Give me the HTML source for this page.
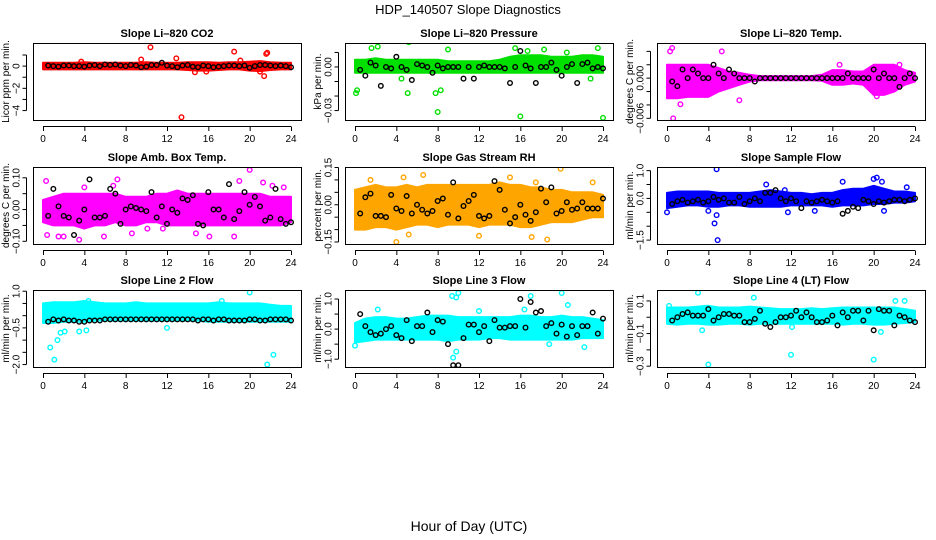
<!DOCTYPE html>
<html><head><meta charset="utf-8">
<style>
html,body{margin:0;padding:0;background:#fff;}
svg{display:block;font-family:"Liberation Sans",sans-serif;}
</style></head>
<body>
<svg id="chart" width="936" height="540" viewBox="0 0 936 540" xmlns="http://www.w3.org/2000/svg">
<text x="468" y="14" text-anchor="middle" font-size="13">HDP_140507  Slope Diagnostics</text>
<text x="469" y="531" text-anchor="middle" font-size="14">Hour of Day (UTC)</text>
</svg>
<script>
// shared x ticks
const xTicks = [0,4,8,12,16,20,24];
// band hours (hourly)
const bandHours = [0,1,2,3,4,5,6,7,8,9,10,11,12,13,14,15,16,17,18,19,20,21,22,23,24];
// black sample hours (half-hourly)
const blackHours = [0.5,1,1.5,2,2.5,3,3.5,4,4.5,5,5.5,6,6.5,7,7.5,8,8.5,9,9.5,10,10.5,11,11.5,12,12.5,13,13.5,14,14.5,15,15.5,16,16.5,17,17.5,18,18.5,19,19.5,20,20.5,21,21.5,22,22.5,23,23.5,24];

// Panel 1: CO2
const p1Lo = [-0.3,-0.3,-0.3,-0.3,-0.3,-0.3,-0.3,-0.3,-0.3,-0.3,-0.3,-0.3,-0.3,-0.3,-0.35,-0.4,-0.4,-0.35,-0.3,-0.3,-0.4,-0.45,-0.35,-0.3,-0.3];
const p1Hi = [0.3,0.3,0.3,0.3,0.35,0.3,0.3,0.3,0.3,0.3,0.35,0.3,0.3,0.3,0.35,0.35,0.35,0.3,0.35,0.35,0.4,0.45,0.35,0.3,0.3];
const p1Out = [[10.4,1.7],[13.4,-4.6],[18.5,1.3],[21.7,1.2],[21.6,1.1],[21.4,-0.9],[9.5,0.6],[12.9,0.7],[21,-0.5],[15.8,-0.5],[14.7,-0.55],[3.7,0.4],[19.1,0.5]];
const p1Black = [0.05,0.0,-0.05,0.05,0.05,0.0,0.0,-0.05,0.05,0.1,0.0,0.15,0.1,0.15,0.05,0.0,0.1,0.05,-0.1,-0.05,0.1,0.1,0.3,0.05,0.0,-0.1,0.05,0.1,-0.05,-0.1,0.05,0.0,-0.1,-0.05,0.0,0.05,0.05,0.0,0.05,-0.15,0.0,0.1,0.1,0.05,0.0,0.05,0.0,-0.1];

// Panel 2: Pressure
const p2Lo = [-0.004,-0.004,-0.004,-0.004,-0.004,-0.004,-0.004,-0.004,-0.004,-0.004,-0.004,-0.004,-0.004,-0.004,-0.004,-0.004,-0.004,-0.004,-0.004,-0.004,-0.004,-0.004,-0.004,-0.004,-0.004];
const p2Hi = [0.005,0.005,0.006,0.005,0.005,0.005,0.005,0.005,0.005,0.004,0.004,0.004,0.004,0.004,0.005,0.007,0.008,0.008,0.008,0.007,0.007,0.007,0.008,0.008,0.007];
const p2Out = [[0.1,-0.018],[0.2,-0.016],[2.4,0.019],[2.2,0.014],[5.2,0.017],[5.1,-0.018],[8,-0.031],[7.8,-0.018],[8.3,-0.016],[16,-0.034],[24,-0.035],[15.5,0.013],[16.7,0.011],[23.5,0.013],[1.6,0.013],[9,0.012],[4.5,-0.008],[18.3,0.012],[22.8,-0.008],[20.5,0.01]];
const p2Black = [-0.002,-0.006,0.003,0.001,-0.013,0.0,-0.001,0.007,0.0,-0.002,-0.009,0.002,0.001,0.0,-0.004,0.001,-0.001,0.0,0.0,0.0,-0.008,0.0,-0.008,0.0,0.001,0.0,0.0,0.0,-0.001,-0.011,0.0,0.011,0.001,-0.001,-0.011,0.0,0.0,0.003,-0.002,-0.006,0.0,0.002,-0.011,0.002,0.003,-0.001,0.0,-0.001];

// Panel 3: Li-820 Temp
const p3Lo = [-0.003,-0.003,-0.0028,-0.0028,-0.0028,-0.002,-0.0015,-0.001,-0.0005,-0.0003,-0.0003,-0.0003,-0.0003,-0.0003,-0.0003,-0.0004,-0.001,-0.001,-0.0008,-0.001,-0.0025,-0.0025,-0.002,-0.001,-0.0005];
const p3Hi = [0.002,0.002,0.002,0.002,0.002,0.0015,0.001,0.0008,0.0005,0.0003,0.0003,0.0003,0.0003,0.0003,0.0003,0.0005,0.0012,0.0012,0.001,0.001,0.002,0.002,0.002,0.0012,0.0008];
const p3Out = [[0.3,0.004],[0.5,0.0045],[0.6,-0.006],[1.3,-0.0039],[5.3,0.004],[7,-0.0033],[22.5,0.002],[16.7,0.002],[20.3,-0.0027]];
const p3Black = [-0.0005,-0.0012,0.0013,0.0,0.0013,0.0007,0.0,0.0,0.002,0.0007,0.0,0.0013,0.0007,0.0,0.0,0.0,-0.0005,0.0,0.0,0.0,0.0,0.0,0.0,0.0,0.0,0.0,0.0,0.0,0.0,0.0,0.0,0.0,0.0,0.0,0.0007,0.0,0.0,0.0,0.0,0.0013,0.0,0.0007,0.0,0.0,-0.0013,0.0,0.0007,0.0];

// Panel 4: Amb. Box Temp
const p4Lo = [-0.04,-0.05,-0.05,-0.05,-0.06,-0.05,-0.05,-0.04,-0.05,-0.05,-0.04,-0.04,-0.05,-0.05,-0.05,-0.05,-0.05,-0.05,-0.05,-0.05,-0.05,-0.05,-0.05,-0.05,-0.04];
const p4Hi = [0.03,0.04,0.05,0.05,0.05,0.05,0.05,0.05,0.04,0.04,0.04,0.05,0.05,0.06,0.05,0.05,0.05,0.05,0.05,0.05,0.05,0.05,0.04,0.04,0.04];
const p4Out = [[0.3,0.09],[0.4,-0.08],[1.5,-0.085],[2,-0.085],[3.5,-0.095],[4,0.07],[5.9,-0.085],[7.2,0.095],[8.6,-0.075],[11.6,-0.06],[14.8,-0.075],[16.1,-0.085],[18.5,-0.085],[19,0.09],[20,0.125],[21.3,0.085],[22.2,0.075],[23.3,0.07],[6.8,0.075],[10.1,-0.06]];
const p4Black = [-0.02,0.065,0.01,-0.02,-0.025,-0.08,-0.035,0.0,0.095,-0.025,-0.025,-0.02,0.065,0.05,-0.045,0.0,0.01,0.005,0.0,-0.005,0.055,-0.025,0.01,-0.045,0.0,-0.01,0.035,0.03,0.045,-0.045,-0.05,0.055,0.0,0.0,-0.025,0.08,-0.03,-0.005,0.055,0.015,0.04,0.01,-0.035,-0.025,0.065,-0.03,-0.045,-0.04];

// Panel 5: Gas Stream RH
const p5Lo = [-0.1,-0.1,-0.09,-0.09,-0.1,-0.09,-0.08,-0.08,-0.09,-0.08,-0.08,-0.08,-0.09,-0.08,-0.08,-0.08,-0.09,-0.09,-0.08,-0.07,-0.07,-0.07,-0.06,-0.05,-0.05];
const p5Hi = [0.06,0.07,0.08,0.07,0.07,0.08,0.07,0.08,0.08,0.08,0.08,0.08,0.08,0.08,0.09,0.08,0.08,0.07,0.07,0.06,0.06,0.05,0.05,0.05,0.04];
const p5Out = [[4,-0.15],[5.2,-0.12],[6.6,0.12],[4.7,0.11],[15,0.11],[17.5,0.09],[19.9,0.145],[18.6,-0.14],[12,-0.125],[17.1,-0.13],[1.5,0.1],[23,0.09]];
const p5Black = [-0.035,0.03,0.045,-0.045,-0.045,-0.05,0.04,-0.015,-0.025,0.035,-0.035,0.0,-0.02,-0.035,-0.025,0.015,0.025,-0.04,0.09,-0.055,-0.005,0.015,0.04,-0.045,-0.055,-0.045,0.095,0.06,-0.02,-0.075,-0.05,0.0,-0.04,-0.065,-0.03,0.065,0.01,0.07,-0.035,-0.025,0.01,-0.02,-0.015,0.01,-0.015,-0.015,-0.015,0.025];

// Panel 6: Sample Flow
const p6Lo = [-0.35,-0.3,-0.25,-0.25,-0.3,-0.3,-0.25,-0.25,-0.3,-0.3,-0.3,-0.3,-0.25,-0.25,-0.25,-0.25,-0.3,-0.25,-0.25,-0.25,-0.2,-0.2,-0.15,-0.15,-0.1];
const p6Hi = [0.2,0.25,0.25,0.25,0.25,0.2,0.2,0.2,0.2,0.25,0.3,0.25,0.2,0.2,0.15,0.2,0.2,0.3,0.35,0.35,0.45,0.35,0.25,0.25,0.2];
const p6Out = [[4.8,1.05],[4.9,-1.5],[4.6,-0.9],[4.8,-0.6],[0,-0.5],[4,-0.45],[9.6,0.5],[11.4,0.3],[17,0.6],[20,0.7],[20.3,0.75],[20.8,0.6],[21,-0.45],[23.2,0.4],[11.7,-0.5],[14.3,-0.45]];
const p6Black = [-0.2,-0.1,-0.05,-0.15,-0.1,-0.05,-0.15,-0.1,0.05,-0.05,0.0,-0.15,-0.15,0.05,-0.2,-0.1,0.0,-0.1,0.2,0.2,0.3,0.0,-0.1,0.0,-0.1,-0.35,-0.1,-0.15,-0.1,-0.05,-0.1,-0.15,-0.1,-0.55,-0.45,-0.3,-0.35,-0.05,-0.1,-0.2,-0.1,-0.15,-0.1,-0.05,-0.05,-0.1,-0.05,0.0];

// Panel 7: Line 2 Flow
const p7Lo = [-0.3,-0.3,-0.25,-0.25,-0.25,-0.2,-0.2,-0.2,-0.2,-0.2,-0.2,-0.2,-0.2,-0.2,-0.2,-0.2,-0.25,-0.25,-0.25,-0.25,-0.25,-0.25,-0.25,-0.25,-0.25];
const p7Hi = [0.5,0.55,0.55,0.55,0.6,0.55,0.5,0.5,0.5,0.55,0.5,0.5,0.5,0.5,0.5,0.5,0.5,0.55,0.5,0.5,0.5,0.5,0.45,0.4,0.4];
const p7Out = [[0.7,-1.3],[1.1,-1.8],[1.4,-1.0],[1.7,-0.7],[2.1,-0.65],[3.5,-0.65],[4.2,-0.6],[12,-0.5],[20,0.95],[21.7,-2.0],[22.3,-1.6],[4.4,0.6],[17.3,0.6]];
const p7Black = [-0.25,-0.15,-0.2,-0.15,-0.2,-0.2,-0.25,-0.25,-0.2,-0.2,-0.2,-0.15,-0.15,-0.15,-0.15,-0.15,-0.15,-0.15,-0.15,-0.15,-0.15,-0.15,-0.15,-0.15,-0.15,-0.15,-0.15,-0.15,-0.15,-0.2,-0.15,-0.15,-0.2,-0.15,-0.15,-0.2,-0.2,-0.2,-0.2,-0.15,-0.15,-0.2,-0.2,-0.15,-0.15,-0.15,-0.15,-0.2];

// Panel 8: Line 3 Flow
const p8Lo = [-0.45,-0.4,-0.35,-0.35,-0.35,-0.35,-0.35,-0.35,-0.35,-0.4,-0.35,-0.35,-0.35,-0.3,-0.3,-0.35,-0.35,-0.35,-0.35,-0.35,-0.35,-0.35,-0.3,-0.3,-0.3];
const p8Hi = [0.2,0.35,0.4,0.4,0.35,0.35,0.4,0.45,0.45,0.45,0.4,0.4,0.4,0.4,0.4,0.4,0.45,0.45,0.4,0.4,0.45,0.4,0.4,0.35,0.3];
const p8Out = [[0,-0.55],[9.4,1.1],[9.8,1.05],[10,1.2],[9.8,-0.75],[9.5,-0.95],[17,1.1],[20,1.2],[18.8,-0.5],[22.2,-0.6],[2.2,0.65],[12,0.6],[16.4,0.65],[20.6,0.8]];
const p8Black = [0.5,0.1,-0.1,-0.2,-0.15,0.0,0.1,-0.2,-0.3,0.3,-0.4,0.1,0.1,0.55,-0.1,0.3,0.25,-0.5,-1.2,-1.2,-0.3,0.15,0.15,-0.1,0.1,-0.4,0.3,0.05,0.05,0.1,0.1,1.0,0.05,0.9,0.55,0.6,0.1,0.2,-0.15,0.15,-0.25,0.1,-0.2,0.1,0.1,0.55,-0.15,0.35];

// Panel 9: Line 4 (LT) Flow
const p9Lo = [-0.04,-0.045,-0.04,-0.04,-0.045,-0.045,-0.04,-0.04,-0.045,-0.04,-0.04,-0.04,-0.04,-0.04,-0.04,-0.04,-0.04,-0.045,-0.04,-0.04,-0.045,-0.045,-0.04,-0.035,-0.03];
const p9Hi = [0.06,0.06,0.06,0.065,0.07,0.06,0.06,0.06,0.065,0.06,0.055,0.05,0.05,0.05,0.055,0.05,0.055,0.06,0.06,0.06,0.06,0.06,0.06,0.05,0.04];
const p9Out = [[3,0.15],[4,-0.29],[12,-0.23],[20,-0.26],[8.4,0.12],[23,0.1],[22.1,0.1],[0.2,0.07],[3.4,-0.08],[20.7,-0.09],[12.1,-0.06]];
const p9Black = [-0.02,0.0,0.02,0.03,0.01,0.01,0.01,0.05,-0.02,0.0,0.02,0.02,0.01,0.01,-0.03,-0.03,-0.01,0.04,-0.04,-0.06,-0.03,0.0,0.0,0.01,0.04,0.0,0.03,0.0,-0.03,-0.03,-0.02,0.01,-0.05,0.03,0.0,0.04,0.04,-0.02,0.04,-0.08,0.05,0.04,0.04,-0.05,0.01,0.0,-0.02,-0.03];

const NS = 'http://www.w3.org/2000/svg';
const svg = document.getElementById('chart');
function mk(tag, attrs, parent){
  const e = document.createElementNS(NS, tag);
  for (const k in attrs) e.setAttribute(k, attrs[k]);
  (parent||svg).appendChild(e);
  return e;
}

const panels = [
  {name:'co2', title:'Slope Li\u2013820 CO2', ylab:'Licor ppm per min.', col:0,row:0, color:'#ff0000', yMin:-4.85, yMax:2.08, ticks:[1,0,-1,-2,-3,-4], labels:[0,-2,-4], fmt:v=>v.toFixed(0).replace('-','\u2212'), lo:p1Lo, hi:p1Hi, out:p1Out, black:p1Black},
  {name:'pressure', title:'Slope Li\u2013820 Pressure', ylab:'kPa per min.', col:1,row:0, color:'#00e000', yMin:-0.0365, yMax:0.0165, ticks:[0.01,0,-0.01,-0.02,-0.03], labels:[0,-0.03], fmt:v=>v.toFixed(2).replace('-','\u2212'), lo:p2Lo, hi:p2Hi, out:p2Out, black:p2Black},
  {name:'li-temp', title:'Slope Li\u2013820 Temp.', ylab:'degrees C per min.', col:2,row:0, color:'#ff00ff', yMin:-0.00625, yMax:0.00525, ticks:[0.004,0.002,0,-0.002,-0.004,-0.006], labels:[0,-0.006], fmt:v=>v.toFixed(3).replace('-','\u2212'), lo:p3Lo, hi:p3Hi, out:p3Out, black:p3Black},
  {name:'amb-box-temp', title:'Slope Amb. Box Temp.', ylab:'degrees C per min.', col:0,row:1, color:'#ff00ff', yMin:-0.1085, yMax:0.134, ticks:[0.1,0.05,0,-0.05,-0.1], labels:[0.1,0,-0.1], fmt:v=>v.toFixed(2).replace('-','\u2212'), lo:p4Lo, hi:p4Hi, out:p4Out, black:p4Black},
  {name:'gas-rh', title:'Slope Gas Stream RH', ylab:'percent per min.', col:1,row:1, color:'#ffa500', yMin:-0.158, yMax:0.152, ticks:[0.15,0.1,0.05,0,-0.05,-0.1,-0.15], labels:[0.15,0,-0.15], fmt:v=>v.toFixed(2).replace('-','\u2212'), lo:p5Lo, hi:p5Hi, out:p5Out, black:p5Black},
  {name:'sample-flow', title:'Slope Sample Flow', ylab:'ml/min per min.', col:2,row:1, color:'#0000ff', yMin:-1.64, yMax:1.13, ticks:[1,0.5,0,-0.5,-1,-1.5], labels:[1,0,-1.5], fmt:v=>v.toFixed(1).replace('-','\u2212'), lo:p6Lo, hi:p6Hi, out:p6Out, black:p6Black},
  {name:'line2-flow', title:'Slope Line 2 Flow', ylab:'ml/min per min.', col:0,row:2, color:'#00ffff', yMin:-2.1, yMax:1.05, ticks:[1,0.5,0,-0.5,-1,-1.5,-2], labels:[1,-0.5,-2], fmt:v=>v.toFixed(1).replace('-','\u2212'), lo:p7Lo, hi:p7Hi, out:p7Out, black:p7Black},
  {name:'line3-flow', title:'Slope Line 3 Flow', ylab:'ml/min per min.', col:1,row:2, color:'#00ffff', yMin:-1.26, yMax:1.3, ticks:[1,0.5,0,-0.5,-1], labels:[1,0,-1], fmt:v=>v.toFixed(1).replace('-','\u2212'), lo:p8Lo, hi:p8Hi, out:p8Out, black:p8Black},
  {name:'line4-flow', title:'Slope Line 4 (LT) Flow', ylab:'ml/min per min.', col:2,row:2, color:'#00ffff', yMin:-0.305, yMax:0.167, ticks:[0.1,0,-0.1,-0.2,-0.3], labels:[0.1,-0.1,-0.3], fmt:v=>v.toFixed(1).replace('-','\u2212'), lo:p9Lo, hi:p9Hi, out:p9Out, black:p9Black}
];

const colX = [33, 345, 657];
const rowY = [43, 167, 290];
const W = 268, H = 77;

panels.forEach(p => {
  const L = colX[p.col], T = rowY[p.row], R = L + W, B = T + H;
  const g = mk('g', {});
  
  
  const xs = h => L + 10 + h / 24 * (W - 20);
  const ys = v => T + (p.yMax - v) / (p.yMax - p.yMin) * H;

  const cp = mk('clipPath', {id:'clip-' + p.name}, g);
  mk('rect', {x:L, y:T, width:W, height:H}, cp);
  const plot = mk('g', {'clip-path':'url(#clip-' + p.name + ')'}, g);

  let d = '';
  bandHours.forEach((h,i) => { d += (i ? 'L' : 'M') + xs(h).toFixed(1) + ',' + ys(p.hi[i]).toFixed(1); });
  for (let i = bandHours.length - 1; i >= 0; i--) d += 'L' + xs(bandHours[i]).toFixed(1) + ',' + ys(p.lo[i]).toFixed(1);
  d += 'Z';
  const band = mk('path', {d:d, fill:p.color, stroke:p.color, 'stroke-width':2, 'stroke-linejoin':'round'}, plot);
  
  

  p.out.forEach(pt => {
    const c = mk('circle', {cx:xs(pt[0]), cy:ys(pt[1]), r:2.3, fill:'none', stroke:p.color, 'stroke-width':1.4}, plot);
    
    
  });
  p.black.forEach((v,i) => {
    const c = mk('circle', {cx:xs(blackHours[i]), cy:ys(v), r:2.3, fill:'none', stroke:'#000', 'stroke-width':1.4}, plot);
    
    
  });

  const box = mk('rect', {x:L+0.5, y:T+0.5, width:W, height:H, fill:'none', stroke:'#000', 'stroke-width':1}, g);
  
  

  const t = mk('text', {x:L + W/2, y:T - 6, 'text-anchor':'middle', 'font-size':11, 'font-weight':'bold'}, g);
  t.textContent = p.title;
  
  

  mk('line', {x1:xs(0), x2:xs(24), y1:B+6.5, y2:B+6.5, stroke:'#000'}, g);
  xTicks.forEach(h => {
    mk('line', {x1:xs(h)+0.5, x2:xs(h)+0.5, y1:B+6.5, y2:B+11, stroke:'#000'}, g);
    const tl = mk('text', {x:xs(h), y:B+22, 'text-anchor':'middle', 'font-size':10}, g);
    tl.textContent = h;
    
    
  });
  const ax = L - 6.5;
  mk('line', {x1:ax, x2:ax, y1:ys(p.ticks[0]), y2:ys(p.ticks[p.ticks.length-1]), stroke:'#000'}, g);
  p.ticks.forEach(v => {
    mk('line', {x1:ax-4, x2:ax, y1:ys(v), y2:ys(v), stroke:'#000'}, g);
  });
  p.labels.forEach(v => {
    const yy = ys(v);
    const tl = mk('text', {x:0, y:0, 'text-anchor':'middle', 'font-size':10, transform:'translate(' + (ax-7) + ',' + yy + ') rotate(-90)'}, g);
    tl.textContent = p.fmt(v);
    
    
  });
  const yl = mk('text', {x:0, y:0, 'text-anchor':'middle', 'font-size':10, transform:'translate(' + (L-24) + ',' + (T + H/2) + ') rotate(-90)'}, g);
  yl.textContent = p.ylab;
  
  
});
</script>
</body></html>
